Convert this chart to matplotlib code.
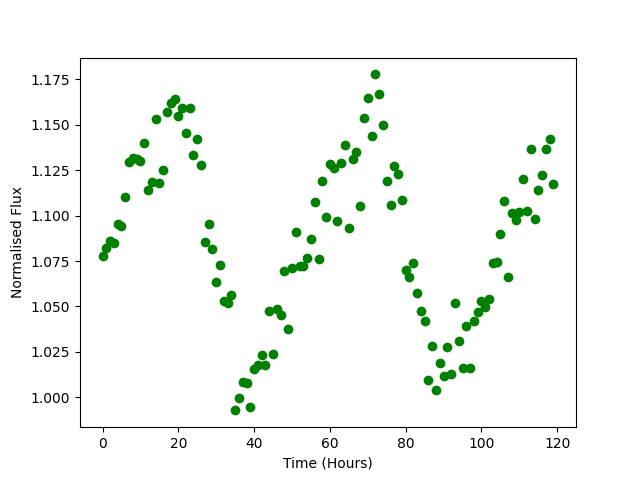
import numpy as np
import matplotlib
matplotlib.use("Agg")
import matplotlib.pyplot as plt

# time in hours, one sample per hour
time_hours = np.arange(0, 120)

flux = [
    1.0780, 1.0824, 1.0860, 1.0850, 1.0952, 1.0943, 1.1105, 1.1297, 1.1315, 1.1311,
    1.1300, 1.1402, 1.1141, 1.1183, 1.1534, 1.1182, 1.1253, 1.1572, 1.1622, 1.1640,
    1.1550, 1.1594, 1.1457, 1.1594, 1.1336, 1.1424, 1.1280, 1.0853, 1.0952, 1.0815,
    1.0637, 1.0730, 1.0527, 1.0519, 1.0561, 0.9927, 0.9993, 1.0083, 1.0077, 0.9943,
    1.0154, 1.0178, 1.0233, 1.0176, 1.0473, 1.0240, 1.0486, 1.0455, 1.0697, 1.0378,
    1.0710, 1.0912, 1.0720, 1.0720, 1.0769, 1.0873, 1.1077, 1.0763, 1.1193, 1.0995,
    1.1286, 1.1260, 1.0969, 1.1292, 1.1390, 1.0934, 1.1311, 1.1348, 1.1051, 1.1539,
    1.1650, 1.1440, 1.1778, 1.1671, 1.1500, 1.1193, 1.1057, 1.1271, 1.1231, 1.1088,
    1.0703, 1.0664, 1.0737, 1.0571, 1.0472, 1.0417, 1.0092, 1.0281, 1.0042, 1.0187,
    1.0114, 1.0274, 1.0127, 1.0516, 1.0307, 1.0163, 1.0391, 1.0163, 1.0422, 1.0468,
    1.0527, 1.0499, 1.0539, 1.0741, 1.0747, 1.0897, 1.1083, 1.0660, 1.1013, 1.0978,
    1.1020, 1.1200, 1.1027, 1.1365, 1.0983, 1.1143, 1.1226, 1.1365, 1.1420, 1.1176,
]

plt.figure(figsize=(6.4, 4.8), dpi=100)
plt.plot(time_hours, flux, 'o', color='green')
plt.xlabel("Time (Hours)")
plt.ylabel("Normalised Flux")
plt.savefig("out.png")
